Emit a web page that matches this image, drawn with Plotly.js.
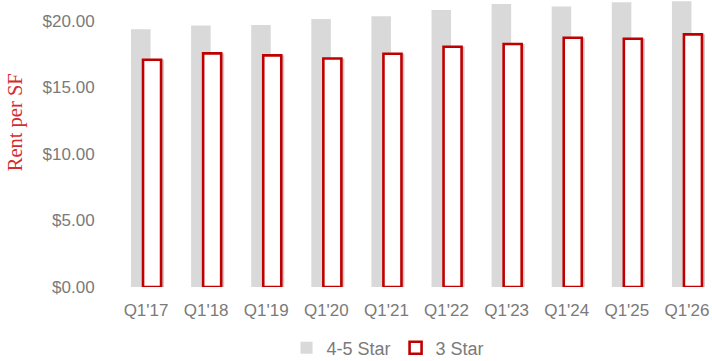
<!DOCTYPE html>
<html>
<head>
<meta charset="utf-8">
<script src="https://cdn.plot.ly/plotly-3.0.1.min.js"></script>
<style>html,body{margin:0;padding:0;background:#fff}#chart{width:712px;height:361px}</style>
</head>
<body>
<div id="chart"></div>
<script>
var categories = ["Q1'17","Q1'18","Q1'19","Q1'20","Q1'21","Q1'22","Q1'23","Q1'24","Q1'25","Q1'26"];
var star45 = [19.37, 19.65, 19.68, 20.13, 20.33, 20.80, 21.26, 21.08, 21.40, 21.46];
var star3 = [17.07, 17.55, 17.40, 17.17, 17.52, 18.05, 18.25, 18.72, 18.65, 18.98];
var yTicks = [0, 5, 10, 15, 20];
var yTickText = ["$0.00", "$5.00", "$10.00", "$15.00", "$20.00"];

var tickFont = {family: "Liberation Sans, Arial, sans-serif", size: 17, color: "#7a7a7a"};

var traces = [
  {type: "bar", name: "4-5 Star", x: categories, y: star45,
   width: 0.325, offset: -0.25,
   marker: {color: "#d9d9d9", line: {width: 0}}, hoverinfo: "skip"},
  {type: "bar", name: "shadow", x: categories, y: star3, showlegend: false,
   width: 0.30, offset: 0.0,
   marker: {color: "rgba(110,110,110,0.35)", line: {width: 0}}, hoverinfo: "skip"},
  {type: "bar", name: "3 Star", x: categories, y: star3,
   width: 0.30, offset: -0.05,
   marker: {color: "#ffffff", line: {color: "#c00000", width: 2.6}}, hoverinfo: "skip"}
];

var layout = {
  width: 712, height: 361,
  margin: {l: 116, r: 0, t: 0, b: 74},
  paper_bgcolor: "#ffffff", plot_bgcolor: "#ffffff",
  barmode: "overlay",
  showlegend: true,
  legend: {orientation: "h", xref: "container", x: 0.545, xanchor: "center",
           yref: "container", y: 0.036, yanchor: "middle",
           font: {family: "Liberation Sans, Arial, sans-serif", size: 18, color: "#7a7a7a"},
           itemwidth: 30, tracegroupgap: 0},
  xaxis: {type: "category", range: [-0.5, 9.417], showgrid: false, zeroline: false,
          showline: false, ticks: "outside", ticklen: 8, tickcolor: "rgba(0,0,0,0)",
          tickfont: tickFont},
  yaxis: {range: [0, 21.56], tickvals: yTicks, ticktext: yTickText, showgrid: false,
          zeroline: false, showline: false, ticks: "outside", ticklen: 17,
          tickcolor: "rgba(0,0,0,0)", tickfont: tickFont},
  annotations: [{text: "Rent per SF", textangle: -90, xref: "paper", yref: "paper",
                 x: -0.1695, y: 0.574, xanchor: "center", yanchor: "middle", showarrow: false,
                 font: {family: "Liberation Serif, Times New Roman, serif", size: 20.5, color: "#d42b2f"}}]
};

Plotly.newPlot("chart", traces, layout, {displayModeBar: false, staticPlot: true});
</script>
</body>
</html>
